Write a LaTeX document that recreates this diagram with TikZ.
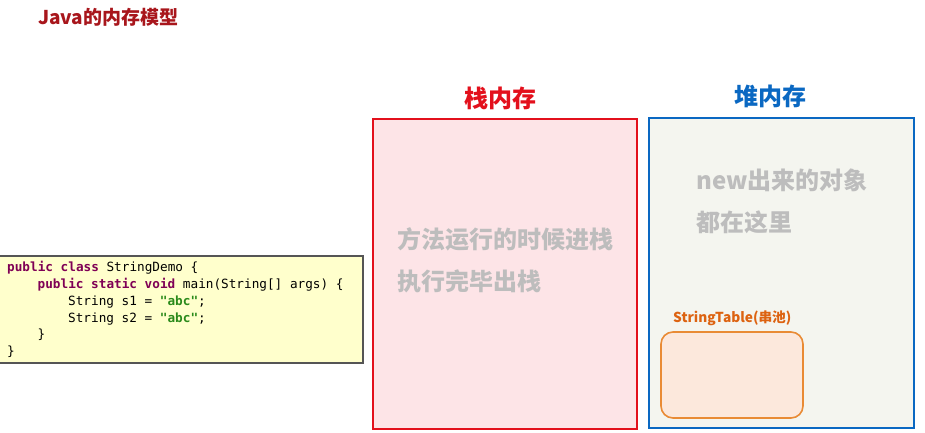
\documentclass[tikz,border=0pt]{standalone}
\usepackage{fontspec}
\usepackage{xcolor}
\setmainfont{Noto Sans CJK SC}
\setmonofont{DejaVu Sans Mono}
\usetikzlibrary{positioning}
\definecolor{titlered}{HTML}{A8161C}
\definecolor{stackred}{HTML}{E3101C}
\definecolor{stackfill}{HTML}{FDE4E7}
\definecolor{heapblue}{HTML}{0A68C2}
\definecolor{heapfill}{HTML}{F4F5EF}
\definecolor{hint}{HTML}{BDBDBD}
\definecolor{poolorange}{HTML}{DD6311}
\definecolor{poolline}{HTML}{E98B35}
\definecolor{poolfill}{HTML}{FCE8DC}
\definecolor{codefill}{HTML}{FFFFCC}
\definecolor{codeline}{HTML}{555555}
\definecolor{kw}{HTML}{7F0055}
\definecolor{str}{HTML}{2A8A1A}
\newcommand\kw[1]{\textbf{\color{kw}#1}}
\newcommand\str[1]{\textbf{\color{str}#1}}
\newcommand\ind{\hspace*{30.5pt}}

\begin{document}
\begin{tikzpicture}[
  x=1pt, y=-1pt,
  membox/.style={rectangle, draw=#1, line width=2.4pt,
                 minimum width=264pt, minimum height=310pt},
  memtitle/.style={font=\fontsize{24}{24}\selectfont\bfseries, text=#1, inner sep=0pt},
  hinttext/.style={font=\fontsize{24}{42}\selectfont\bfseries, text=hint,
                   align=left, anchor=west, inner sep=0pt}
]
\useasboundingbox (0,0) rectangle (925,433);

% Title
\node[font=\fontsize{19}{19}\selectfont\bfseries, text=titlered, anchor=west, inner sep=0pt]
  (title) at (38,17) {Java的内存模型};

% Code
\node[rectangle, draw=codeline, line width=1.2pt, fill=codefill,
      minimum width=364pt, minimum height=107pt] (code) at (181,309.5) {};
\node[font=\ttfamily\fontsize{12.7}{16.8}\selectfont, align=left, anchor=west, inner sep=0pt]
  (codetext) at (7,309.5) {%
  \kw{public class} StringDemo \{\\
  \ind\kw{public static void} main(String[] args) \{\\
  \ind\ind String s1 = \str{"abc"};\\
  \ind\ind String s2 = \str{"abc"};\\
  \ind\}\\
  \}};

% Stack
\node[membox=stackred, fill=stackfill] (stack) at (505,274) {};
\node[memtitle=stackred] (stacktitle) at (500,98) {栈内存};
\node[hinttext] (stacktext) at (397,260) {方法运行的时候进栈\\执行完毕出栈};

% Heap
\node[membox=heapblue, fill=heapfill, minimum width=265pt] (heap) at (781.5,273) {};
\node[memtitle=heapblue] (heaptitle) at (770,96) {堆内存};
\node[hinttext] (heaptext) at (696,201) {new出来的对象\\都在这里};

% String pool
\node[rectangle, rounded corners=12pt, draw=poolline, line width=1.6pt, fill=poolfill,
      minimum width=142pt, minimum height=86pt] (pool) at (732,375) {};
\node[font=\fontsize{13.7}{13.7}\selectfont\bfseries, text=poolorange, anchor=west, inner sep=0pt]
  (pooltitle) at (673,318) {StringTable(串池)};

\end{tikzpicture}
\end{document}
